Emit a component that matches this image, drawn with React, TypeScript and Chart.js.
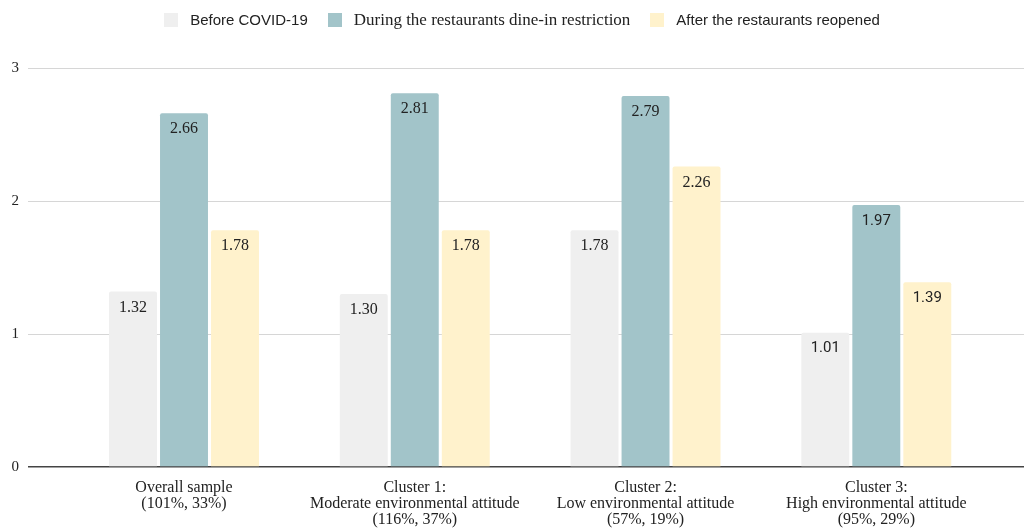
import React, { useEffect, useRef } from 'react';
import { Chart, registerables } from 'chart.js';

Chart.register(...registerables);

// Category labels (multi-line) along the x axis
const groupLabels: string[][] = [
  ['Overall sample', '(101%, 33%)'],
  ['Cluster 1:', 'Moderate environmental attitude', '(116%, 37%)'],
  ['Cluster 2:', 'Low environmental attitude', '(57%, 19%)'],
  ['Cluster 3:', 'High environmental attitude', '(95%, 29%)'],
];

const seriesNames = [
  'Before COVID-19',
  'During the restaurants dine-in restriction',
  'After the restaurants reopened',
];

const beforeCovid = [1.32, 1.3, 1.78, 1.01];
const duringRestriction = [2.66, 2.81, 2.79, 1.97];
const afterReopening = [1.78, 1.78, 2.26, 1.39];

const yTickValues = [0, 1, 2, 3];

const SERIF = '"Liberation Serif", "DejaVu Serif", serif';
const SANS = '"Liberation Sans", Arial, sans-serif';
const ROBOTO = 'Roboto, "Liberation Sans", sans-serif';

const seriesColors = ['#efefef', '#a2c4c9', '#fff2cc'];
const legendFonts = [SANS, SERIF, SANS];
const valueLabelFonts = [SERIF, SERIF, SERIF, ROBOTO];

// Writes each bar's value just inside its top edge
const valueLabelPlugin = {
  id: 'valueLabels',
  afterDatasetsDraw(chart: any) {
    const ctx = chart.ctx;
    ctx.save();
    ctx.textAlign = 'center';
    ctx.textBaseline = 'middle';
    ctx.fillStyle = '#222';
    chart.data.datasets.forEach((ds: any, di: number) => {
      const meta = chart.getDatasetMeta(di);
      meta.data.forEach((bar: any, i: number) => {
        const v = ds.data[i].y as number;
        const sans = valueLabelFonts[i] !== SERIF;
        ctx.font = sans ? `15px ${valueLabelFonts[i]}` : `16px ${SERIF}`;
        ctx.fillText(v.toFixed(2), bar.x, bar.y + 16);
      });
    });
    ctx.restore();
  },
};

export default function App() {
  const canvasRef = useRef<HTMLCanvasElement | null>(null);

  useEffect(() => {
    if (!canvasRef.current) return;
    const series = [beforeCovid, duringRestriction, afterReopening];
    const chart = new Chart(canvasRef.current, {
      type: 'bar',
      data: {
        datasets: series.map((vals, si) => ({
          label: seriesNames[si],
          data: vals.map((v, i) => ({ x: i, y: v })),
          backgroundColor: seriesColors[si],
          borderRadius: 2,
          categoryPercentage: 0.663,
          barPercentage: 0.94,
        })),
      },
      options: {
        animation: false,
        responsive: false,
        maintainAspectRatio: false,
        layout: { padding: { top: 68, left: 0, right: 0, bottom: 0 } },
        plugins: {
          legend: { display: false },
          tooltip: { enabled: false },
        },
        scales: {
          x: {
            type: 'linear',
            offset: false,
            min: -0.676,
            max: 3.64,
            grid: { display: false },
            border: { display: false },
            afterBuildTicks: (scale: any) => {
              scale.ticks = groupLabels.map((_, i) => ({ value: i }));
            },
            afterFit: (scale: any) => {
              scale.height = 62;
            },
            ticks: {
              autoSkip: false,
              maxRotation: 0,
              padding: 5,
              color: '#222',
              font: { family: SERIF, size: 16, lineHeight: 1 },
              callback: (value: any) => groupLabels[Math.round(Number(value))] ?? '',
            },
          },
          y: {
            min: 0,
            max: 3,
            border: { display: false },
            afterBuildTicks: (scale: any) => {
              scale.ticks = yTickValues.map((v) => ({ value: v }));
            },
            afterFit: (scale: any) => {
              scale.width = 28;
            },
            grid: {
              drawTicks: false,
              color: (c: any) => (c.tick && c.tick.value === 0 ? '#444' : '#d6d6d6'),
              lineWidth: (c: any) => (c.tick && c.tick.value === 0 ? 1.6 : 1),
            },
            ticks: {
              padding: 9,
              color: '#222',
              font: { family: SERIF, size: 15 },
            },
          },
        },
      },
      plugins: [valueLabelPlugin],
    } as any);
    return () => chart.destroy();
  }, []);

  return (
    <div
      style={{
        position: 'absolute',
        left: 0,
        top: 0,
        width: 1024,
        height: 529,
        background: '#fff',
        overflow: 'hidden',
      }}
    >
      <canvas ref={canvasRef} width={1024} height={529} style={{ display: 'block' }} />
      <div
        style={{
          position: 'absolute',
          top: 10,
          left: 20,
          right: 0,
          display: 'flex',
          justifyContent: 'center',
          alignItems: 'center',
          gap: 20,
          color: '#222',
        }}
      >
        {seriesNames.map((name, i) => (
          <div key={name} style={{ display: 'flex', alignItems: 'center' }}>
            <span
              style={{
                width: 14,
                height: 14,
                background: seriesColors[i],
                marginRight: 12,
                display: 'inline-block',
              }}
            />
            <span
              style={{
                fontFamily: legendFonts[i],
                fontSize: legendFonts[i] === SERIF ? 17 : 15,
                lineHeight: '20px',
                whiteSpace: 'nowrap',
              }}
            >
              {name}
            </span>
          </div>
        ))}
      </div>
    </div>
  );
}
